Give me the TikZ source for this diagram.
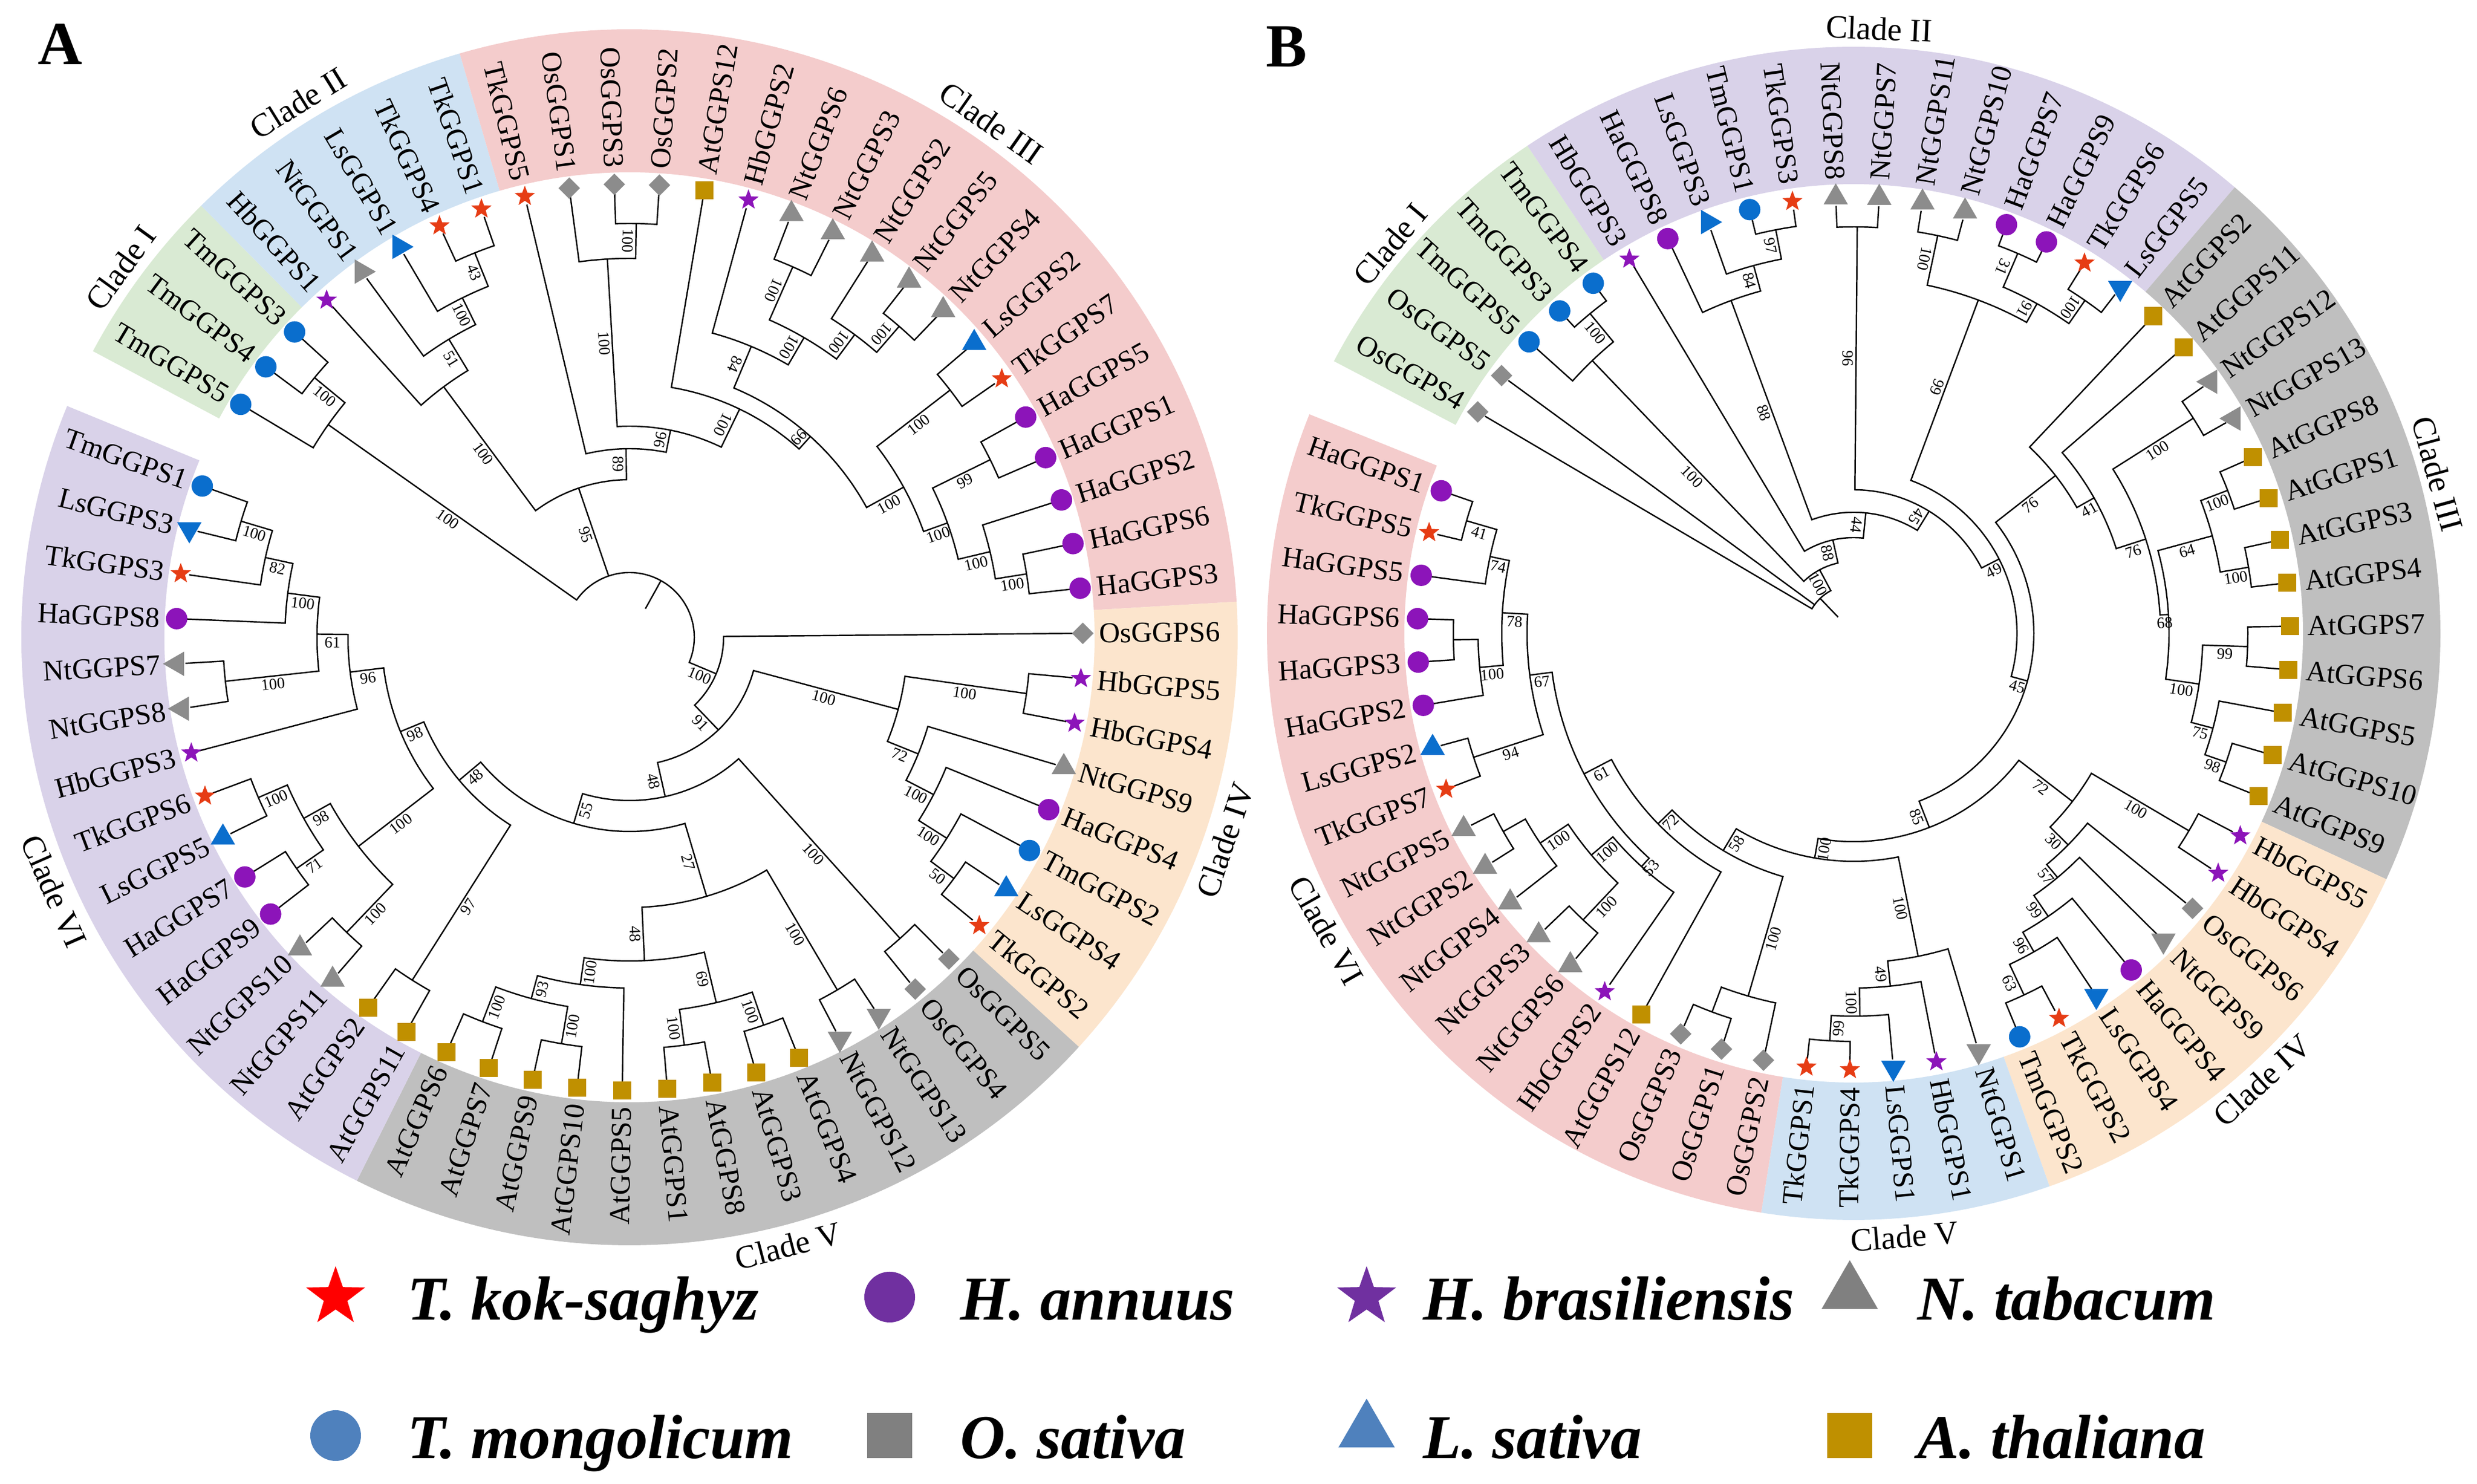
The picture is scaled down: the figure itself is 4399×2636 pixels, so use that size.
\documentclass[tikz,border=0pt]{standalone}
\usepackage{fontspec}
\setmainfont{Liberation Serif}
\usetikzlibrary{shapes.geometric}
\definecolor{cTk}{RGB}{230,60,20}
\definecolor{cPu}{RGB}{140,20,185}
\definecolor{cGr}{RGB}{140,140,140}
\definecolor{cBl}{RGB}{10,110,205}
\definecolor{cAt}{RGB}{192,144,0}
\definecolor{bGreen}{RGB}{217,234,211}
\definecolor{bBlue}{RGB}{207,226,243}
\definecolor{bPink}{RGB}{244,204,204}
\definecolor{bOrange}{RGB}{252,229,205}
\definecolor{bGray}{RGB}{191,191,191}
\definecolor{bLav}{RGB}{217,210,233}
\definecolor{lRed}{RGB}{255,0,0}
\definecolor{lPur}{RGB}{112,48,160}
\definecolor{lGray}{RGB}{128,128,128}
\definecolor{lBlue}{RGB}{79,129,189}
\definecolor{lGold}{RGB}{191,144,0}
% internal node: child a (idx, r), child b (idx, r), node r, parent r, bootstrap
\newcommand\IN[7]{%
  \draw[br] ({\To+\Ts*(#1)}:#2) -- ({\To+\Ts*(#1)}:#5)
     arc[start angle={\To+\Ts*(#1)}, end angle={\To+\Ts*(#3)}, radius=#5]
     -- ({\To+\Ts*(#3)}:#4);%
  \if\relax\detokenize{#7}\relax\else
    \pgfmathsetmacro\ba{mod(\To+\Ts*((#1+#3)/2)+720,360)}%
    \pgfmathsetmacro\brr{(#5+#6)/2}%
    \pgfmathsetmacro\bt{(\ba>45 && \ba<=270) ? \ba-180 : \ba}%
    \node[bs,rotate=\bt] at (\ba:\brr) {#7};%
  \fi}
% leaf: idx, name, marker style, marker rotation
\newcommand\LF[4]{%
  \pgfmathsetmacro\la{mod(\To+\Ts*(#1)+720,360)}%
  \node[m#3,rotate=#4] (\Tn-#2) at (\la:\Rm) {};%
  \ifdim\la pt>90pt
    \ifdim\la pt>270pt
      \node[leaf,anchor=west,rotate=\la] at (\la:\Rt) {#2};%
    \else
      \node[leaf,anchor=east,rotate=\la-180] at (\la:\Rt) {#2};%
    \fi
  \else
    \node[leaf,anchor=west,rotate=\la] at (\la:\Rt) {#2};%
  \fi}
\newcommand\BAND[3]{%
  \fill[#3] ({\To+\Ts*(#1)}:\Rin) arc[start angle={\To+\Ts*(#1)}, end angle={\To+\Ts*(#2)}, radius=\Rin]
    -- ({\To+\Ts*(#2)}:\Ro) arc[start angle={\To+\Ts*(#2)}, end angle={\To+\Ts*(#1)}, radius=\Ro] -- cycle;}
\newcommand\CL[2]{%
  \pgfmathsetmacro\ca{mod(#1+720,360)}%
  \ifdim\ca pt<180pt
    \node[clade,rotate=\ca-90] at (\ca:\Rc) {#2};%
  \else
    \node[clade,rotate=\ca+90] at (\ca:\Rc) {#2};%
  \fi}
\begin{document}
\begin{tikzpicture}[x=0.01cm,y=0.01cm,
  br/.style={line width=0.7pt, line join=miter},
  bs/.style={font=\fontsize{8}{9}\selectfont, inner sep=1.2pt, anchor=north},
  leaf/.style={font=\fontsize{14.6}{16}\selectfont, inner sep=0pt},
  clade/.style={font=\fontsize{16.5}{18}\selectfont, inner sep=0pt},
  mk/.style={inner sep=0pt, outer sep=0pt, draw=none},
  mtk/.style={mk, star, star points=5, star point ratio=2.4, minimum size=0.38cm, fill=cTk},
  mhb/.style={mtk, fill=cPu},
  mha/.style={mk, circle, minimum size=0.38cm, fill=cPu},
  mtm/.style={mha, fill=cBl},
  mnt/.style={mk, regular polygon, regular polygon sides=3, minimum size=0.5cm, fill=cGr},
  mls/.style={mnt, fill=cBl},
  mos/.style={mk, rectangle, minimum size=0.27cm, rotate=45, fill=cGr},
  mat/.style={mk, rectangle, minimum size=0.32cm, fill=cAt},
  legt/.style={font=\fontsize{31.5}{34}\selectfont\bfseries\itshape, inner sep=0pt, anchor=base west},
  lstar/.style={mk, star, star points=5, star point ratio=2.5, minimum size=1.1cm},
  lcirc/.style={mk, circle, minimum size=0.9cm},
  ltri/.style={mk, regular polygon, regular polygon sides=3, minimum size=1.15cm},
  lsq/.style={mk, rectangle, minimum size=0.8cm},
  panel/.style={font=\fontsize{31}{34}\selectfont\bfseries, inner sep=0pt}
]
\useasboundingbox (0,0) rectangle (4399,2636);
\fill[white] (0,0) rectangle (4399,2636);

%================ TREE A =================
\begin{scope}[shift={(1118,1504)}]
\def\To{0.5}\def\Ts{5.7143}\def\Rm{805}\def\L{790}\def\Rt{834}\def\Rin{826}\def\Ro{1080}\def\Rc{1117}\def\Tn{A}
\BAND{23.5}{26.5}{bGreen}
\BAND{18.5}{23.5}{bBlue}
\BAND{0.5}{18.5}{bPink}
\BAND{55.5}{63.5}{bOrange}
\BAND{42.5}{55.5}{bGray}
\BAND{27.5}{42.5}{bLav}
\CL{144}{Clade I}
\CL{121.8}{Clade II}
\CL{54.9}{Clade III}
\CL{-18.8}{Clade IV}
\CL{-75.4}{Clade V}
\CL{203.8}{Clade VI}
% Clade I
\IN{24}{\L}{25}{\L}{725}{655}{100}
\IN{24.5}{725}{26}{\L}{655}{115}{100}
% Clade II
\IN{19}{\L}{20}{\L}{736}{672}{43}
\IN{19.5}{736}{21}{\L}{672}{619}{100}
\IN{20.25}{672}{22}{\L}{619}{554}{51}
\IN{21.125}{619}{23}{\L}{554}{280}{100}
% Clade III
\IN{15}{\L}{16}{\L}{735}{673}{100}
\IN{15.5}{735}{17}{\L}{673}{375}{100}
\IN{11}{\L}{12}{\L}{719}{616}{100}
\IN{8}{\L}{9}{\L}{731}{670}{100}
\IN{8.5}{731}{10}{\L}{670}{616}{100}
\IN{9.25}{670}{11.5}{719}{616}{560}{100}
\IN{10.375}{616}{13}{\L}{560}{480}{84}
\IN{6}{\L}{7}{\L}{719}{555}{100}
\IN{4}{\L}{5}{\L}{714}{600}{99}
\IN{1}{\L}{2}{\L}{714}{658}{100}
\IN{1.5}{714}{3}{\L}{658}{600}{100}
\IN{2.25}{658}{4.5}{714}{600}{555}{100}
\IN{3.375}{600}{6.5}{719}{555}{480}{100}
\IN{4.9375}{555}{11.6875}{560}{480}{450}{99}
\IN{8.3125}{480}{14}{\L}{450}{375}{100}
\IN{11.15625}{450}{16.25}{673}{375}{335}{96}
\IN{13.703125}{375}{18}{\L}{335}{280}{89}
\IN{15.8515625}{335}{22.0625}{554}{280}{115}{95}
% Clade VI
\IN{28}{\L}{29}{\L}{720}{662}{100}
\IN{28.5}{720}{30}{\L}{662}{612}{82}
\IN{29.25}{662}{31}{\L}{612}{555}{100}
\IN{32}{\L}{33}{\L}{722}{555}{100}
\IN{30.125}{612}{32.5}{722}{555}{500}{61}
\IN{31.3125}{555}{34}{\L}{500}{440}{96}
\IN{35}{\L}{36}{\L}{718}{662}{100}
\IN{37}{\L}{38}{\L}{720}{662}{71}
\IN{35.5}{718}{37.5}{720}{662}{608}{98}
\IN{39}{\L}{40}{\L}{726}{608}{100}
\IN{36.5}{662}{39.5}{726}{608}{440}{100}
\IN{32.65625}{500}{38}{608}{440}{395}{98}
\IN{41}{\L}{42}{\L}{721}{395}{97}
\IN{35.328125}{440}{41.5}{721}{395}{345}{48}
% Clade V
\IN{43}{\L}{44}{\L}{731}{665}{100}
\IN{45}{\L}{46}{\L}{732}{665}{100}
\IN{43.5}{731}{45.5}{732}{665}{623}{93}
\IN{44.5}{665}{47}{\L}{623}{575}{100}
\IN{48}{\L}{49}{\L}{731}{667}{100}
\IN{50}{\L}{51}{\L}{729}{667}{100}
\IN{48.5}{731}{50.5}{729}{667}{575}{69}
\IN{45.75}{623}{49.5}{667}{575}{480}{48}
\IN{52}{\L}{53}{\L}{727}{480}{100}
\IN{47.625}{575}{52.5}{727}{480}{345}{27}
\IN{38.4140625}{395}{50.0625}{480}{345}{290}{55}
\IN{54}{\L}{55}{\L}{719}{290}{100}
\IN{44.23828125}{345}{54.5}{719}{290}{228}{48}
% Clade IV
\IN{56}{\L}{57}{\L}{718}{667}{50}
\IN{56.5}{718}{58}{\L}{667}{608}{100}
\IN{57.25}{667}{59}{\L}{608}{553}{100}
\IN{58.125}{608}{60}{\L}{553}{494}{72}
\IN{61}{\L}{62}{\L}{712}{494}{100}
\IN{59.0625}{553}{61.5}{712}{494}{228}{100}
\IN{49.369140625}{290}{60.28125}{494}{228}{167}{91}
\IN{54.8251953125}{228}{63}{\L}{167}{115}{100}
% root
\IN{-4.08740234375}{167}{25.25}{655}{115}{}{}
\draw[br] ({\To+\Ts*18.95703125}:115) -- ({\To+\Ts*18.95703125}:280);
\draw[br] ({\To+\Ts*10.58129882812}:115) -- ({\To+\Ts*10.58129882812}:58);
% leaves
\LF{63}{OsGGPS6}{os}{0}
\LF{1}{HaGGPS3}{ha}{0}
\LF{2}{HaGGPS6}{ha}{0}
\LF{3}{HaGGPS2}{ha}{0}
\LF{4}{HaGGPS1}{ha}{0}
\LF{5}{HaGGPS5}{ha}{0}
\LF{6}{TkGGPS7}{tk}{0}
\LF{7}{LsGGPS2}{ls}{0}
\LF{8}{NtGGPS4}{nt}{0}
\LF{9}{NtGGPS5}{nt}{0}
\LF{10}{NtGGPS2}{nt}{0}
\LF{11}{NtGGPS3}{nt}{0}
\LF{12}{NtGGPS6}{nt}{0}
\LF{13}{HbGGPS2}{hb}{0}
\LF{14}{AtGGPS12}{at}{0}
\LF{15}{OsGGPS2}{os}{0}
\LF{16}{OsGGPS3}{os}{0}
\LF{17}{OsGGPS1}{os}{0}
\LF{18}{TkGGPS5}{tk}{0}
\LF{19}{TkGGPS1}{tk}{0}
\LF{20}{TkGGPS4}{tk}{0}
\LF{21}{LsGGPS1}{ls}{-90}
\LF{22}{NtGGPS1}{nt}{-90}
\LF{23}{HbGGPS1}{hb}{0}
\LF{24}{TmGGPS3}{tm}{0}
\LF{25}{TmGGPS4}{tm}{0}
\LF{26}{TmGGPS5}{tm}{0}
\LF{28}{TmGGPS1}{tm}{0}
\LF{29}{LsGGPS3}{ls}{180}
\LF{30}{TkGGPS3}{tk}{0}
\LF{31}{HaGGPS8}{ha}{0}
\LF{32}{NtGGPS7}{nt}{90}
\LF{33}{NtGGPS8}{nt}{90}
\LF{34}{HbGGPS3}{hb}{0}
\LF{35}{TkGGPS6}{tk}{0}
\LF{36}{LsGGPS5}{ls}{0}
\LF{37}{HaGGPS7}{ha}{0}
\LF{38}{HaGGPS9}{ha}{0}
\LF{39}{NtGGPS10}{nt}{0}
\LF{40}{NtGGPS11}{nt}{0}
\LF{41}{AtGGPS2}{at}{0}
\LF{42}{AtGGPS11}{at}{0}
\LF{43}{AtGGPS6}{at}{0}
\LF{44}{AtGGPS7}{at}{0}
\LF{45}{AtGGPS9}{at}{0}
\LF{46}{AtGGPS10}{at}{0}
\LF{47}{AtGGPS5}{at}{0}
\LF{48}{AtGGPS1}{at}{0}
\LF{49}{AtGGPS8}{at}{0}
\LF{50}{AtGGPS3}{at}{0}
\LF{51}{AtGGPS4}{at}{0}
\LF{52}{NtGGPS12}{nt}{180}
\LF{53}{NtGGPS13}{nt}{180}
\LF{54}{OsGGPS4}{os}{0}
\LF{55}{OsGGPS5}{os}{0}
\LF{56}{TkGGPS2}{tk}{0}
\LF{57}{LsGGPS4}{ls}{0}
\LF{58}{TmGGPS2}{tm}{0}
\LF{59}{HaGGPS4}{ha}{0}
\LF{60}{NtGGPS9}{nt}{0}
\LF{61}{HbGGPS4}{hb}{0}
\LF{62}{HbGGPS5}{hb}{0}
\end{scope}

%================ TREE B =================
\begin{scope}[shift={(3292,1511)}]
\def\To{149.5}\def\Ts{-5.7143}\def\Rm{775}\def\L{760}\def\Rt{806}\def\Rin{798}\def\Ro{1042}\def\Rc{1075}\def\Tn{B}
\BAND{-0.5}{4.5}{bGreen}
\BAND{4.5}{17.5}{bLav}
\BAND{17.5}{30.5}{bGray}
\BAND{30.5}{38.5}{bOrange}
\BAND{38.5}{43.5}{bBlue}
\BAND{43.5}{61.5}{bPink}
\CL{140}{Clade I}
\CL{87.6}{Clade II}
\CL{15.3}{Clade III}
\CL{-47.6}{Clade IV}
\CL{-85.2}{Clade V}
\CL{209.4}{Clade VI}
% Clade I
\IN{3}{\L}{4}{\L}{736}{671}{100}
\IN{2}{\L}{3.5}{736}{671}{128}{100}
% Clade II
\IN{8}{\L}{9}{\L}{730}{677}{97}
\IN{7}{\L}{8.5}{730}{677}{630}{84}
\IN{6}{\L}{7.75}{677}{630}{215}{88}
\IN{10}{\L}{11}{\L}{722}{255}{96}
\IN{12}{\L}{13}{\L}{722}{632}{100}
\IN{14}{\L}{15}{\L}{735}{670}{31}
\IN{16}{\L}{17}{\L}{720}{670}{100}
\IN{14.5}{735}{16.5}{720}{670}{632}{91}
\IN{12.5}{722}{15.5}{670}{632}{290}{99}
% Clade III
\IN{22}{\L}{23}{\L}{711}{660}{100}
\IN{24}{\L}{25}{\L}{711}{660}{100}
\IN{22.5}{711}{24.5}{711}{660}{560}{64}
\IN{26}{\L}{27}{\L}{700}{620}{99}
\IN{29}{\L}{30}{\L}{700}{660}{98}
\IN{28}{\L}{29.5}{700}{660}{620}{75}
\IN{26.5}{700}{28.75}{660}{620}{560}{100}
\IN{23.5}{660}{27.625}{620}{560}{545}{68}
\IN{20}{\L}{21}{\L}{714}{545}{100}
\IN{20.5}{714}{25.5625}{560}{545}{490}{76}
\IN{19}{\L}{23.03125}{545}{490}{455}{41}
\IN{18}{\L}{21.015625}{490}{455}{320}{76}
% Clade IV
\IN{37}{\L}{38}{\L}{710}{650}{63}
\IN{36}{\L}{37.5}{710}{650}{610}{96}
\IN{35}{\L}{36.75}{650}{610}{565}{99}
\IN{34}{\L}{35.875}{610}{565}{535}{57}
\IN{33}{\L}{34.9375}{565}{535}{490}{30}
\IN{31}{\L}{32}{\L}{691}{490}{100}
\IN{31.5}{691}{33.96875}{535}{490}{370}{72}
% Clade V
\IN{42}{\L}{43}{\L}{725}{680}{99}
\IN{41}{\L}{42.5}{725}{680}{630}{100}
\IN{40}{\L}{41.75}{680}{630}{585}{49}
\IN{39}{\L}{40.875}{630}{585}{405}{100}
% Clade VI
\IN{45}{\L}{46}{\L}{718}{671}{}
\IN{44}{\L}{45.5}{718}{671}{450}{100}
\IN{52}{\L}{53}{\L}{715}{670}{}
\IN{51}{\L}{52.5}{715}{670}{610}{100}
\IN{49}{\L}{50}{\L}{700}{610}{100}
\IN{49.5}{700}{51.75}{670}{610}{560}{100}
\IN{48}{\L}{50.625}{610}{560}{540}{53}
\IN{54}{\L}{55}{\L}{710}{580}{94}
\IN{57}{\L}{58}{\L}{711}{667}{}
\IN{56}{\L}{57.5}{711}{667}{625}{100}
\IN{60}{\L}{61}{\L}{716}{660}{41}
\IN{59}{\L}{60.5}{716}{660}{625}{74}
\IN{56.75}{667}{59.75}{660}{625}{580}{78}
\IN{54.5}{710}{58.25}{625}{580}{540}{67}
\IN{49.3125}{560}{56.375}{580}{540}{485}{61}
\IN{47}{\L}{52.84375}{540}{485}{450}{72}
\IN{44.75}{671}{49.921875}{485}{450}{405}{58}
% backbone
\IN{47.3359375}{450}{39.9375}{585}{405}{370}{100}
\IN{43.63671875}{405}{32.734375}{490}{370}{320}{85}
\IN{38.185546875}{370}{19.5078125}{455}{320}{290}{45}
\IN{28.8466796875}{320}{14}{632}{290}{255}{49}
\IN{21.42333984375}{290}{10.5}{722}{255}{215}{45}
\IN{15.961669921875}{255}{6.875}{630}{215}{170}{44}
\IN{11.4183349609375}{215}{5}{\L}{170}{128}{88}
\IN{8.20916748046875}{170}{2.75}{671}{128}{86}{100}
\IN{5.479583740234375}{128}{0}{\L}{86}{}{}
\draw[br] ({\To+\Ts*1}:86) -- ({\To+\Ts*1}:\L);
\draw[br] ({\To+\Ts*2.7397918701}:86) -- ({\To+\Ts*2.7397918701}:40);
% leaves
\LF{0}{OsGGPS4}{os}{0}
\LF{1}{OsGGPS5}{os}{0}
\LF{2}{TmGGPS5}{tm}{0}
\LF{3}{TmGGPS3}{tm}{0}
\LF{4}{TmGGPS4}{tm}{0}
\LF{5}{HbGGPS3}{hb}{0}
\LF{6}{HaGGPS8}{ha}{0}
\LF{7}{LsGGPS3}{ls}{-90}
\LF{8}{TmGGPS1}{tm}{0}
\LF{9}{TkGGPS3}{tk}{0}
\LF{10}{NtGGPS8}{nt}{0}
\LF{11}{NtGGPS7}{nt}{0}
\LF{12}{NtGGPS11}{nt}{0}
\LF{13}{NtGGPS10}{nt}{0}
\LF{14}{HaGGPS7}{ha}{0}
\LF{15}{HaGGPS9}{ha}{0}
\LF{16}{TkGGPS6}{tk}{0}
\LF{17}{LsGGPS5}{ls}{180}
\LF{18}{AtGGPS2}{at}{0}
\LF{19}{AtGGPS11}{at}{0}
\LF{20}{NtGGPS12}{nt}{90}
\LF{21}{NtGGPS13}{nt}{90}
\LF{22}{AtGGPS8}{at}{0}
\LF{23}{AtGGPS1}{at}{0}
\LF{24}{AtGGPS3}{at}{0}
\LF{25}{AtGGPS4}{at}{0}
\LF{26}{AtGGPS7}{at}{0}
\LF{27}{AtGGPS6}{at}{0}
\LF{28}{AtGGPS5}{at}{0}
\LF{29}{AtGGPS10}{at}{0}
\LF{30}{AtGGPS9}{at}{0}
\LF{31}{HbGGPS5}{hb}{0}
\LF{32}{HbGGPS4}{hb}{0}
\LF{33}{OsGGPS6}{os}{0}
\LF{34}{NtGGPS9}{nt}{180}
\LF{35}{HaGGPS4}{ha}{0}
\LF{36}{LsGGPS4}{ls}{180}
\LF{37}{TkGGPS2}{tk}{0}
\LF{38}{TmGGPS2}{tm}{0}
\LF{39}{NtGGPS1}{nt}{180}
\LF{40}{HbGGPS1}{hb}{0}
\LF{41}{LsGGPS1}{ls}{180}
\LF{42}{TkGGPS4}{tk}{0}
\LF{43}{TkGGPS1}{tk}{0}
\LF{44}{OsGGPS2}{os}{0}
\LF{45}{OsGGPS1}{os}{0}
\LF{46}{OsGGPS3}{os}{0}
\LF{47}{AtGGPS12}{at}{0}
\LF{48}{HbGGPS2}{hb}{0}
\LF{49}{NtGGPS6}{nt}{0}
\LF{50}{NtGGPS3}{nt}{0}
\LF{51}{NtGGPS4}{nt}{0}
\LF{52}{NtGGPS2}{nt}{0}
\LF{53}{NtGGPS5}{nt}{0}
\LF{54}{TkGGPS7}{tk}{0}
\LF{55}{LsGGPS2}{ls}{0}
\LF{56}{HaGGPS2}{ha}{0}
\LF{57}{HaGGPS3}{ha}{0}
\LF{58}{HaGGPS6}{ha}{0}
\LF{59}{HaGGPS5}{ha}{0}
\LF{60}{TkGGPS5}{tk}{0}
\LF{61}{HaGGPS1}{ha}{0}
\end{scope}

% panel letters
\node[panel] (labA) at (107,2557) {A};
\node[panel] (labB) at (2285,2553) {B};

% legend
\node[lstar, fill=lRed] (lg1) at (596,332) {};
\node[legt] (lg1t) at (723,291) {T. kok-saghyz};
\node[lcirc, fill=lPur] (lg2) at (1580,332) {};
\node[legt] (lg2t) at (1705,291) {H. annuus};
\node[lstar, fill=lPur] (lg3) at (2427,332) {};
\node[legt] (lg3t) at (2527,291) {H. brasiliensis};
\node[ltri, fill=lGray] (lg4) at (3285,340) {};
\node[legt] (lg4t) at (3405,291) {N. tabacum};
\node[lcirc, fill=lBlue] (lg5) at (596,86) {};
\node[legt] (lg5t) at (723,45) {T. mongolicum};
\node[lsq, fill=lGray] (lg6) at (1580,86) {};
\node[legt] (lg6t) at (1705,45) {O. sativa};
\node[ltri, fill=lBlue] (lg7) at (2427,94) {};
\node[legt] (lg7t) at (2527,45) {L. sativa};
\node[lsq, fill=lGold] (lg8) at (3285,86) {};
\node[legt] (lg8t) at (3405,45) {A. thaliana};
\end{tikzpicture}
\end{document}
